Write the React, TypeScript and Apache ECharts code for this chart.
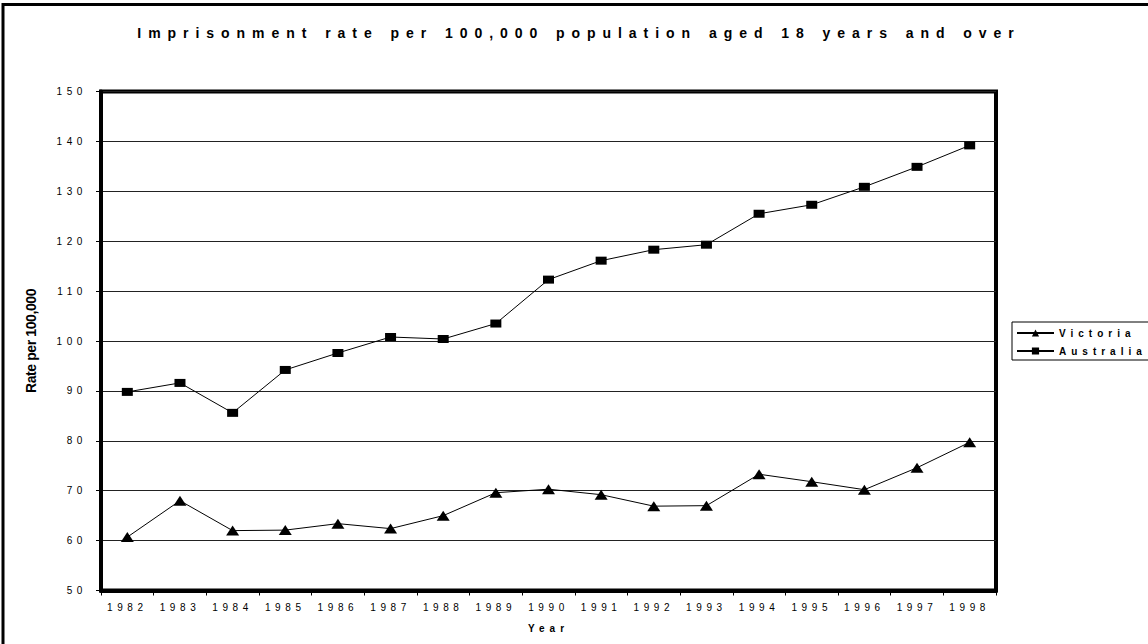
import React, { useEffect, useRef } from "react";
import * as echarts from "echarts";

// Imprisonment rates per 100,000 adults, 1982–1998
const years = [
  "1982", "1983", "1984", "1985", "1986", "1987", "1988", "1989", "1990",
  "1991", "1992", "1993", "1994", "1995", "1996", "1997", "1998",
];
const victoria = [
  60.7, 68.0, 62.0, 62.1, 63.4, 62.4, 65.0, 69.6, 70.3,
  69.2, 66.9, 67.0, 73.3, 71.8, 70.2, 74.6, 79.7,
];
const australia = [
  89.8, 91.6, 85.6, 94.2, 97.6, 100.8, 100.4, 103.5, 112.3,
  116.1, 118.3, 119.3, 125.5, 127.3, 130.9, 134.9, 139.2,
];
const yMin = 50;
const yMax = 150;
const yStep = 10;

const TITLE = "Imprisonment rate per 100,000 population aged 18 years and over";
const Y_NAME = "Rate per 100,000";
const X_NAME = "Year";
const SERIES_NAMES = ["Victoria", "Australia"];

const FONT = "Arial, 'Liberation Sans', Helvetica, sans-serif";

// Wide tracking on the chart's texts (the SVG text nodes accept CSS spacing)
function applyTracking(root: HTMLElement) {
  root.querySelectorAll("text").forEach((node) => {
    const t = node as SVGTextElement;
    const s = (t.textContent || "").trim();
    let ls = "4.6px";
    let ws = "0px";
    if (s === TITLE) {
      ls = "6.95px";
      ws = "1px";
    } else if (s === Y_NAME) {
      ls = "-0.4px";
    } else if (SERIES_NAMES.includes(s) || s === X_NAME) {
      ls = "5px";
    }
    t.style.letterSpacing = ls;
    t.style.wordSpacing = ws;
  });
}

export default function App() {
  const ref = useRef<HTMLDivElement>(null);

  useEffect(() => {
    const el = ref.current;
    if (!el) return;
    const chart = echarts.init(el, undefined, { renderer: "svg" });

    chart.setOption({
      animation: false,
      backgroundColor: "#ffffff",
      title: {
        text: TITLE,
        left: 579,
        top: 26,
        padding: 0,
        textAlign: "center",
        textStyle: { fontFamily: FONT, fontSize: 14, fontWeight: "bold", color: "#000" },
      },
      graphic: [
        {
          type: "rect",
          shape: { x: 3, y: 4.5, width: 1170, height: 670 },
          style: { fill: "none", stroke: "#000", lineWidth: 3 },
          silent: true,
        },
        {
          type: "rect",
          shape: { x: 1012, y: 322, width: 140, height: 38 },
          style: { fill: "#fff", stroke: "#000", lineWidth: 1 },
          silent: true,
          z: -1,
        },
      ],
      legend: {
        data: SERIES_NAMES,
        orient: "vertical",
        left: 1016,
        top: 328,
        padding: 0,
        itemWidth: 37,
        itemHeight: 9,
        itemGap: 8,
        selectedMode: false,
        textStyle: { fontFamily: FONT, fontSize: 10, fontWeight: "bold", color: "#000" },
      },
      grid: {
        left: 101,
        right: 152,
        top: 91.5,
        bottom: 53.5,
        show: true,
        borderColor: "#000",
        borderWidth: 4,
        backgroundColor: "#fff",
      },
      xAxis: {
        type: "category",
        data: years,
        boundaryGap: true,
        name: X_NAME,
        nameLocation: "middle",
        nameGap: 33,
        nameTextStyle: { fontFamily: FONT, fontSize: 10, fontWeight: "bold", color: "#000" },
        axisLine: { show: true, lineStyle: { color: "#000", width: 4 } },
        axisTick: { show: true, alignWithLabel: false, interval: 0, length: 5, lineStyle: { color: "#000", width: 1 } },
        axisLabel: { interval: 0, margin: 12, fontFamily: FONT, fontSize: 10, color: "#000" },
        splitLine: { show: false },
      },
      yAxis: {
        type: "value",
        min: yMin,
        max: yMax,
        interval: yStep,
        name: Y_NAME,
        nameLocation: "middle",
        nameGap: 63,
        nameRotate: 90,
        nameTextStyle: { fontFamily: FONT, fontSize: 14, fontWeight: "bold", color: "#000" },
        axisLine: { show: true, lineStyle: { color: "#000", width: 4 } },
        axisTick: { show: true, length: 5, lineStyle: { color: "#000", width: 1 } },
        axisLabel: { margin: 14, fontFamily: FONT, fontSize: 10, color: "#000" },
        splitLine: { show: true, lineStyle: { color: "#222", width: 1 } },
      },
      series: [
        {
          name: "Victoria",
          type: "line",
          data: victoria,
          symbol: "triangle",
          symbolSize: [13, 10],
          lineStyle: { color: "#000", width: 1 },
          itemStyle: { color: "#000" },
        },
        {
          name: "Australia",
          type: "line",
          data: australia,
          symbol: "rect",
          symbolSize: [11, 8],
          lineStyle: { color: "#000", width: 1 },
          itemStyle: { color: "#000" },
        },
      ],
    });

    applyTracking(el);
    const onFinished = () => applyTracking(el);
    chart.on("finished", onFinished);

    return () => {
      chart.off("finished", onFinished);
      chart.dispose();
    };
  }, []);

  return (
    <div
      ref={ref}
      style={{ position: "fixed", left: 0, top: 0, width: 1148, height: 644, background: "#fff" }}
    />
  );
}
